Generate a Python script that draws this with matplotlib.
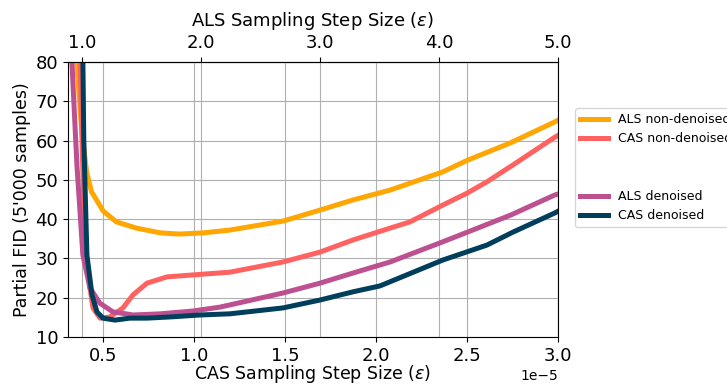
import numpy as np
import matplotlib.pyplot as plt
from matplotlib.lines import Line2D
from matplotlib.ticker import FormatStrFormatter

# CAS step sizes are in units of 1e-5, ALS step sizes as plotted on the top axis
cas_x_nd = [0.368, 0.374, 0.401, 0.445, 0.484, 0.538, 0.61, 0.665, 0.742, 0.852, 0.995,
            1.198, 1.489, 1.692, 1.874, 2.077, 2.187, 2.368, 2.5, 2.61, 2.753, 2.984, 3.0]
cas_fid_nd = [88, 80, 31.4, 17.4, 14.8, 15.1, 17.4, 20.7, 23.7, 25.3, 25.8,
              26.5, 29.1, 31.6, 34.7, 37.7, 39.3, 43.6, 46.6, 49.5, 53.8, 60.9, 61.3]

cas_x_d = [0.388, 0.395, 0.412, 0.44, 0.467, 0.5, 0.566, 0.648, 0.742, 0.868, 1.033,
           1.198, 1.489, 1.692, 1.874, 2.022, 2.368, 2.61, 2.753, 2.984, 3.0]
cas_fid_d = [88, 60, 30.9, 20.7, 16.4, 14.8, 14.3, 14.8, 14.8, 15.1, 15.6,
             15.9, 17.4, 19.4, 21.5, 23.0, 29.6, 33.4, 36.7, 41.6, 42.0]

als_x_nd = [0.93, 0.955, 1.0, 1.04, 1.08, 1.18, 1.29, 1.46, 1.66, 1.82, 2.02,
            2.24, 2.69, 3.00, 3.28, 3.59, 4.03, 4.24, 4.60, 4.97, 5.0]
als_fid_nd = [88, 80, 62, 52, 47, 42.0, 39.3, 37.7, 36.5, 36.2, 36.5,
              37.2, 39.5, 42.3, 44.9, 47.4, 52.0, 55.0, 59.4, 64.7, 65.2]

als_x_d = [0.90, 0.916, 0.958, 1.008, 1.067, 1.151, 1.26, 1.43, 1.66, 1.93, 2.16,
           2.69, 3.00, 3.28, 3.59, 4.03, 4.24, 4.60, 4.97, 5.0]
als_fid_d = [88, 80, 53.8, 30.9, 22.5, 18.6, 16.4, 15.6, 15.9, 16.6, 17.6,
             21.2, 23.7, 26.3, 29.1, 34.2, 36.7, 41.0, 46.1, 46.4]

cas_ticks = [0.5, 1.0, 1.5, 2.0, 2.5, 3.0]
als_ticks = [1.0, 2.0, 3.0, 4.0, 5.0]
y_ticks = [10, 20, 30, 40, 50, 60, 70, 80]

c_als_nd = '#ffa600'
c_cas_nd = '#ff6361'
c_als_d = '#bc5090'
c_cas_d = '#003f5c'

# linear link between the two step-size axes (CAS 3e-5 <-> ALS 5.0)
def cas_to_als(x):
    return 5.0 + (np.asarray(x) - 3e-5) * 1.5294e5

def als_to_cas(a):
    return 3e-5 + (np.asarray(a) - 5.0) / 1.5294e5

fig = plt.figure(figsize=(7.27, 3.85), dpi=100)
ax = fig.add_axes([0.0935, 0.1247, 0.674, 0.7143])

lw = 3.6
ax.plot(als_to_cas(als_x_nd), als_fid_nd, color=c_als_nd, lw=lw, label='ALS non-denoised')
ax.plot(np.array(cas_x_nd) * 1e-5, cas_fid_nd, color=c_cas_nd, lw=lw, label='CAS non-denoised')
ax.plot(als_to_cas(als_x_d), als_fid_d, color=c_als_d, lw=lw, label='ALS denoised')
ax.plot(np.array(cas_x_d) * 1e-5, cas_fid_d, color=c_cas_d, lw=lw, label='CAS denoised')

ax.set_xlim(0.308e-5, 3.0e-5)
ax.set_ylim(10, 80)
ax.set_xticks(np.array(cas_ticks) * 1e-5)
ax.set_yticks(y_ticks)
ax.grid(True, color='#b0b0b0', lw=0.8)
ax.set_axisbelow(True)
for t in als_ticks:
    ax.axvline(als_to_cas(t), color='#b0b0b0', lw=0.8, zorder=0.5)

ax.tick_params(labelsize=13)
ax.xaxis.get_offset_text().set_fontsize(10)
ax.set_xlabel(r'CAS Sampling Step Size ($\epsilon$)', fontsize=12.5, labelpad=-1)
ax.set_ylabel("Partial FID (5'000 samples)", fontsize=12.5, labelpad=3)

sec = ax.secondary_xaxis('top', functions=(cas_to_als, als_to_cas))
sec.set_xticks(als_ticks)
sec.xaxis.set_major_formatter(FormatStrFormatter('%.1f'))
sec.tick_params(labelsize=13)
sec.set_xlabel(r'ALS Sampling Step Size ($\epsilon$)', fontsize=13, labelpad=6)

h, l = ax.get_legend_handles_labels()
blank = Line2D([], [], color='none')
handles = [h[0], h[1], blank, blank, h[2], h[3]]
labels = [l[0], l[1], ' ', ' ', l[2], l[3]]
fig.legend(handles, labels, loc='upper left', bbox_to_anchor=(0.791, 0.719),
           borderaxespad=0, fontsize=9, handlelength=2.2)

fig.savefig('out.png', dpi=100)
